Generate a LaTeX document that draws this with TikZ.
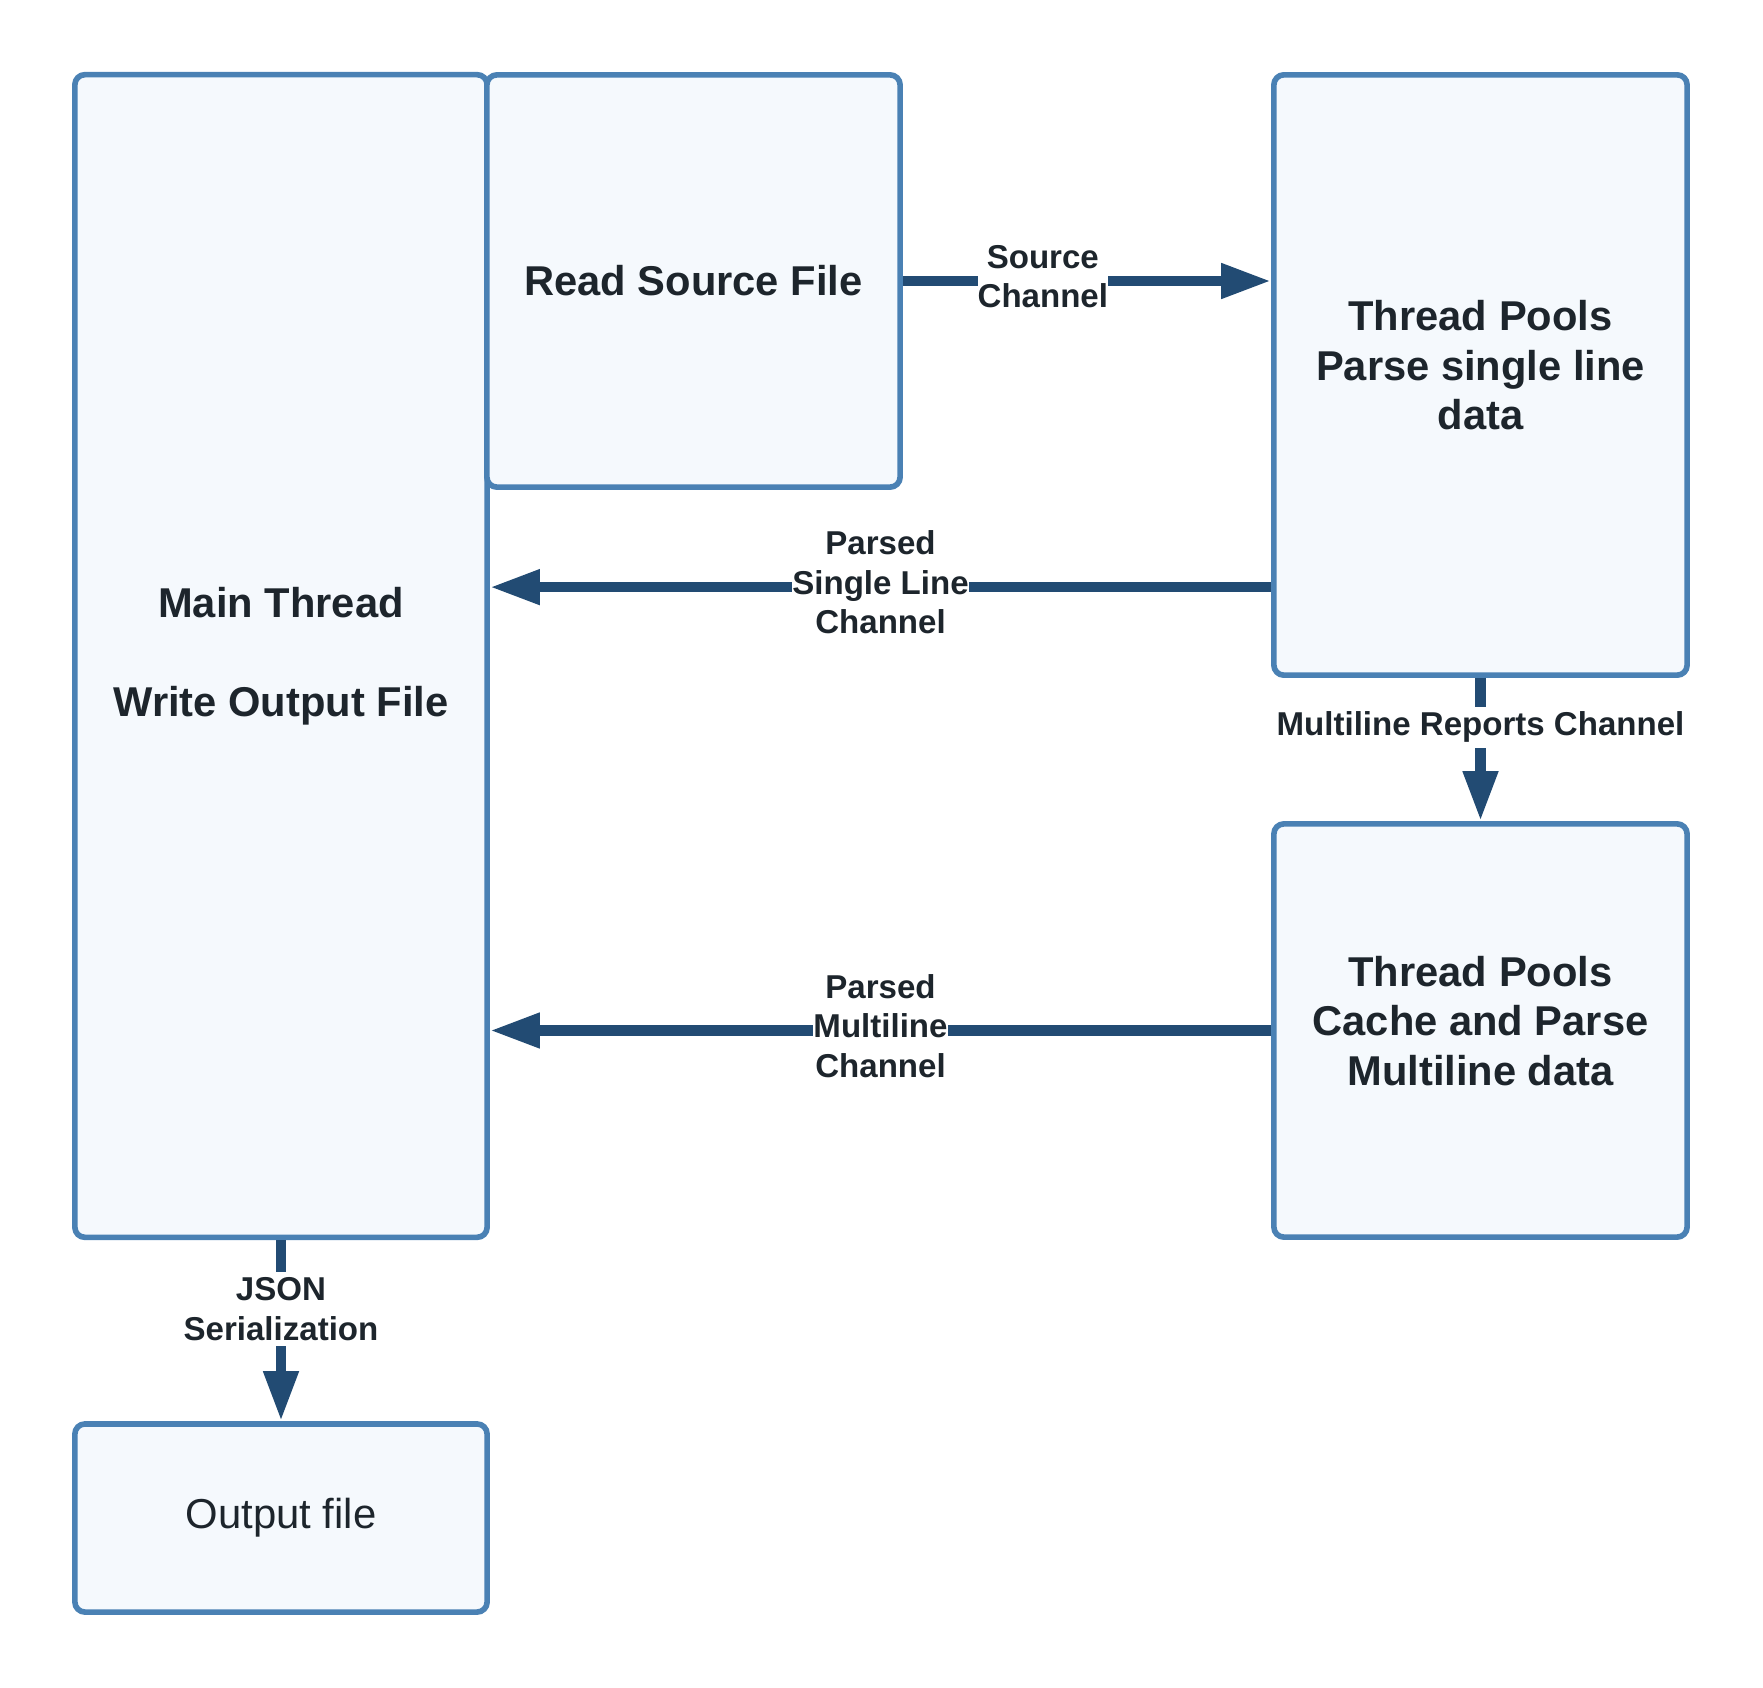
\documentclass[tikz,border=0pt]{standalone}
\usepackage{fontspec}
\setmainfont{Liberation Sans}
\usetikzlibrary{arrows.meta}
\definecolor{boxBorder}{HTML}{4A81B4}
\definecolor{boxFill}{HTML}{F5F9FD}
\definecolor{channelBlue}{HTML}{224B73}
\definecolor{inkGray}{HTML}{1D252C}

\begin{document}
\begin{tikzpicture}[x=0.01cm, y=-0.01cm,
     stage/.style={draw=boxBorder, fill=boxFill, line width=1.6pt, rounded corners=0.1cm,
       inner sep=0pt, text=inkGray, align=center, font=\fontsize{11.85}{14.1}\selectfont\bfseries},
     channel/.style={draw=channelBlue, line width=3pt, -{Triangle[length=0.5cm, width=0.33cm]}},
     tag/.style={fill=white, inner xsep=0pt, inner ysep=1.5pt, text=inkGray, align=center,
       font=\fontsize{9.4}{11.2}\selectfont\bfseries}]
     \useasboundingbox (0,0) rectangle (1763,1688);
     % Stages.
     \node [stage, minimum width=4.12cm, minimum height=11.62cm] (main) at (281,656)
       {Main Thread\\[14.1pt]Write Output File};
     \node [stage, minimum width=4.13cm, minimum height=4.12cm] (read) at (693.5,281)
       {Read Source File};
     \node [stage, minimum width=4.13cm, minimum height=6cm, text depth=0.2cm] (tp1) at (1480.5,375)
       {Thread Pools\\Parse single line\\data};
     \node [stage, minimum width=4.13cm, minimum height=4.13cm, text depth=0.2cm] (tp2) at (1480.5,1030.5)
       {Thread Pools\\Cache and Parse\\Multiline data};
     \node [stage, minimum width=4.12cm, minimum height=1.88cm,
       font=\fontsize{11.9}{14.1}\selectfont] (out) at (281,1518) {Output file};
     % Channels.
     \coordinate (singleOut) at ([yshift=-2.12cm]tp1.west);
     \draw [channel] (read.east) -- node [tag, pos=0.38, yshift=1.3pt] {Source\\Channel} (tp1.west |- read.east);
     \draw [channel] (singleOut) -- node [tag, yshift=1.3pt] {Parsed\\Single Line\\Channel} (singleOut -| main.east);
     \draw [channel] (tp2.west) -- node [tag, yshift=1.3pt] {Parsed\\Multiline\\Channel} (tp2.west -| main.east);
     \draw [channel] (tp1.south) -- node [tag, pos=0.345] {Multiline Reports Channel} (tp2.north);
     \draw [channel] (main.south) -- node [tag, pos=0.38] {JSON\\Serialization} (out.north);
\end{tikzpicture}
\end{document}
